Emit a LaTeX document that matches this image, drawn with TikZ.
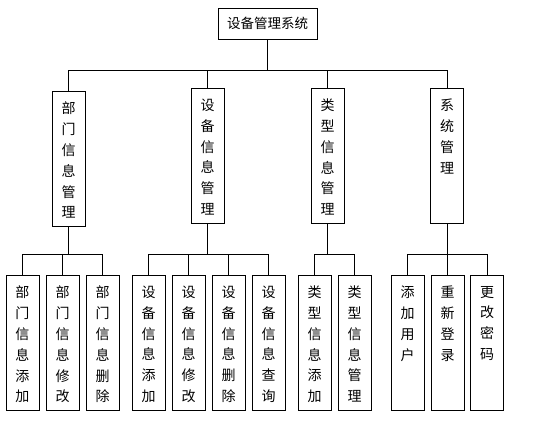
\documentclass[tikz,border=0pt]{standalone}
\usepackage{fontspec}
\setmainfont{Noto Sans CJK SC}
\tikzset{
  topbox/.style={draw, line width=0.8pt, minimum width=99pt, minimum height=31pt, inner sep=0pt},
  colbox/.style={draw, line width=0.8pt, inner xsep=9.5pt, inner ysep=11pt,
    execute at begin node={\begin{minipage}[c][113pt][t]{14pt}\centering\fontsize{14pt}{20.8pt}\selectfont},
    execute at end node={\end{minipage}}},
  link/.style={line width=0.8pt}
}
\begin{document}
\begin{tikzpicture}[x=1pt, y=-1pt, font=\fontsize{13.5pt}{16pt}\selectfont]
  \useasboundingbox (0,0) rectangle (551,433);
  \coordinate (bus) at (0,70);
  \coordinate (subbus) at (0,254);

  \node[topbox] (system) at (267.5,23.5) {设备管理系统};

  % second level
  \node[colbox] (dept) at (68.5,158.5) {部\\门\\信\\息\\管\\理};
  \node[colbox] (equip) at (207.5,155.5) {设\\备\\信\\息\\管\\理};
  \node[colbox] (type) at (327.5,155.5) {类\\型\\信\\息\\管\\理};
  \node[colbox] (sysm) at (447,155.5) {系\\统\\管\\理};

  \draw[link] (system) -- (system |- bus);
  \draw[link] (dept) -- (dept |- bus) -- (sysm |- bus) -- (sysm);
  \draw[link] (equip) -- (equip |- bus);
  \draw[link] (type) -- (type |- bus);

  % third level
  \node[colbox] (deptadd) at (22.5,342.5) {部\\门\\信\\息\\添\\加};
  \node[colbox] (deptedit) at (62.5,342.5) {部\\门\\信\\息\\修\\改};
  \node[colbox] (deptdel) at (102.5,342.5) {部\\门\\信\\息\\删\\除};

  \node[colbox] (equipadd) at (148.5,342.5) {设\\备\\信\\息\\添\\加};
  \node[colbox] (equipedit) at (188.5,342.5) {设\\备\\信\\息\\修\\改};
  \node[colbox] (equipdel) at (228.5,342.5) {设\\备\\信\\息\\删\\除};
  \node[colbox] (equipquery) at (268.5,342.5) {设\\备\\信\\息\\查\\询};

  \node[colbox] (typeadd) at (314.5,342.5) {类\\型\\信\\息\\添\\加};
  \node[colbox] (typemgr) at (354.5,342.5) {类\\型\\信\\息\\管\\理};

  \node[colbox] (useradd) at (407.5,342.5) {添\\加\\用\\户};
  \node[colbox] (relogin) at (447.5,342.5) {重\\新\\登\\录};
  \node[colbox] (passwd) at (487,342.5) {更\\改\\密\\码};

  \draw[link] (dept) -- (dept |- subbus);
  \draw[link] (deptadd) -- (deptadd |- subbus) -- (deptdel |- subbus) -- (deptdel);
  \draw[link] (deptedit) -- (deptedit |- subbus);

  \draw[link] (equip) -- (equip |- subbus);
  \draw[link] (equipadd) -- (equipadd |- subbus) -- (equipquery |- subbus) -- (equipquery);
  \draw[link] (equipedit) -- (equipedit |- subbus);
  \draw[link] (equipdel) -- (equipdel |- subbus);

  \draw[link] (type) -- (type |- subbus);
  \draw[link] (typeadd) -- (typeadd |- subbus) -- (typemgr |- subbus) -- (typemgr);

  \draw[link] (sysm) -- (sysm |- subbus);
  \draw[link] (useradd) -- (useradd |- subbus) -- (passwd |- subbus) -- (passwd);
  \draw[link] (relogin) -- (relogin |- subbus);
\end{tikzpicture}
\end{document}
